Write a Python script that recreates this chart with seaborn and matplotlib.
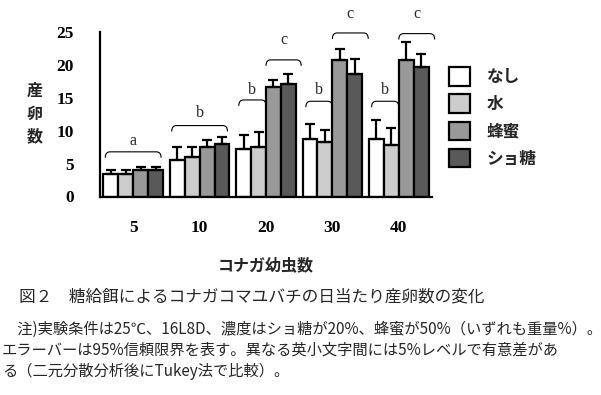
import numpy as np
import pandas as pd
import matplotlib
matplotlib.use("Agg")
import matplotlib.pyplot as plt
from matplotlib.patches import Patch, PathPatch
from matplotlib.path import Path
import seaborn as sns

# ---------------- data ----------------
larvae = ["5", "10", "20", "30", "40"]
treatments = ["なし", "水", "蜂蜜", "ショ糖"]
mean_nashi = [3.4, 5.6, 7.3, 8.8, 8.8]
mean_mizu = [3.4, 6.0, 7.5, 8.3, 7.9]
mean_hachimitsu = [4.1, 7.5, 16.6, 20.8, 20.8]
mean_shotou = [4.1, 8.0, 17.2, 18.7, 19.7]
upper_nashi = [4.1, 7.5, 9.3, 11.0, 11.7]
upper_mizu = [4.1, 7.5, 9.8, 10.1, 10.5]
upper_hachimitsu = [4.5, 8.6, 17.7, 22.4, 23.5]
upper_shotou = [4.5, 9.0, 18.6, 20.9, 21.7]
colors = ["#ffffff", "#cccccc", "#999999", "#595959"]
yticks = [0, 5, 10, 15, 20, 25]

# significance letters: (letter, group index, bracket left offset, right offset, bracket y, letter y)
sig_letters = ["a", "b", "b", "c", "b", "c", "b", "c"]
sig_group = [0, 1, 2, 2, 3, 3, 4, 4]
sig_left = [-0.42, -0.42, -0.41, 0.0, -0.40, 0.0, -0.41, 0.0]
sig_right = [0.42, 0.42, 0.0, 0.53, 0.0, 0.54, 0.0, 0.54]
sig_bracket_y = [6.8, 10.8, 14.7, 20.8, 14.5, 24.9, 14.5, 24.8]
sig_text_y = [8.4, 12.7, 16.2, 23.8, 16.2, 27.8, 16.2, 27.8]

means = [mean_nashi, mean_mizu, mean_hachimitsu, mean_shotou]
uppers = [upper_nashi, upper_mizu, upper_hachimitsu, upper_shotou]

rows = []
for t, m, u in zip(treatments, means, uppers):
    for g, mv, uv in zip(larvae, m, u):
        rows.append({"larvae": g, "treatment": t, "mean": mv, "upper": uv})
df = pd.DataFrame(rows)

# ---------------- figure ----------------
sns.set_style("white")
plt.rcParams["font.family"] = ["Noto Sans CJK JP", "DejaVu Sans"]

W, H = 601, 395
fig = plt.figure(figsize=(W / 100, H / 100), dpi=100)
ax = fig.add_axes([100 / W, 1 - 196.5 / H, 332 / W, 164.2 / H])

sns.barplot(data=df, x="larvae", y="mean", hue="treatment", order=larvae,
            hue_order=treatments, palette=colors, width=0.9, errorbar=None,
            edgecolor="black", linewidth=1.6, saturation=1, ax=ax, legend=False)

# error bars (upper only)
for cont, up in zip(ax.containers, uppers):
    for bar, uv in zip(cont, up):
        xc = bar.get_x() + bar.get_width() / 2
        h = bar.get_height()
        ax.errorbar([xc], [h], yerr=[[0], [uv - h]], fmt="none", ecolor="black",
                    elinewidth=1.6, capsize=3.5, capthick=1.6, zorder=1)

# brackets and letters
hook = 0.9
for L, g, lo, ro, by, ty in zip(sig_letters, sig_group, sig_left, sig_right,
                                 sig_bracket_y, sig_text_y):
    x0, x1 = g + lo, g + ro
    r = 0.07
    verts = [(x0, by - hook), (x0, by), (x0 + r, by), (x1 - r, by),
             (x1, by), (x1, by - hook)]
    codes = [Path.MOVETO, Path.CURVE3, Path.CURVE3, Path.LINETO,
             Path.CURVE3, Path.CURVE3]
    ax.add_patch(PathPatch(Path(verts, codes), fill=False, edgecolor="black",
                           linewidth=0.8, clip_on=False))
    ax.text((x0 + x1) / 2, ty, L, ha="center", va="center",
            family="Liberation Serif", fontsize=11.5, clip_on=False)

ax.set_xlim(-0.5, 4.5)
ax.set_ylim(0, 25)
ax.set_yticks(yticks)
ax.set_yticklabels([str(v) for v in yticks])
for s in ["top", "right"]:
    ax.spines[s].set_visible(False)
for s in ["left", "bottom"]:
    ax.spines[s].set_linewidth(1.6)
    ax.spines[s].set_color("black")
ax.tick_params(axis="both", direction="out", length=4, width=1.6, colors="black")
ax.tick_params(axis="y", pad=15)
ax.tick_params(axis="x", pad=13)
for lab in ax.get_xticklabels() + ax.get_yticklabels():
    lab.set_family("Liberation Serif")
    lab.set_fontweight("bold")
    lab.set_fontsize(12.5)
ax.set_xlabel("")
ax.set_ylabel("")

fig.text(266 / W, 1 - 265 / H, "コナガ幼虫数", ha="center", va="center",
         fontsize=11.5, fontweight="bold")
fig.text(35 / W, 1 - 113.5 / H, "産\n卵\n数", ha="center", va="center",
         fontsize=11.5, fontweight="bold", linespacing=1.55)

handles = [Patch(facecolor=c, edgecolor="black", linewidth=1.6) for c in colors]
fig.legend(handles, treatments, loc="upper left",
           bbox_to_anchor=(449 / W, 1 - 67 / H), frameon=False, borderpad=0,
           borderaxespad=0, handlelength=1.25, handleheight=1.35,
           handletextpad=1.0, labelspacing=0.5,
           prop={"family": ["Noto Sans CJK JP", "DejaVu Sans"],
                 "weight": "bold", "size": 12})

# caption
fig.text(19 / W, 1 - 297 / H, "図２　糖給餌によるコナガコマユバチの日当たり産卵数の変化",
         ha="left", va="center", fontsize=12)
notes = ["　注)実験条件は25℃、16L8D、濃度はショ糖が20%、蜂蜜が50%（いずれも重量%）。",
         "エラーバーは95%信頼限界を表す。異なる英小文字間には5%レベルで有意差があ",
         "る（二元分散分析後にTukey法で比較）。"]
for i, line in enumerate(notes):
    fig.text(2 / W, 1 - (329 + 21 * i) / H, line, ha="left", va="center",
             fontsize=11)

fig.savefig("out.png", dpi=100)
